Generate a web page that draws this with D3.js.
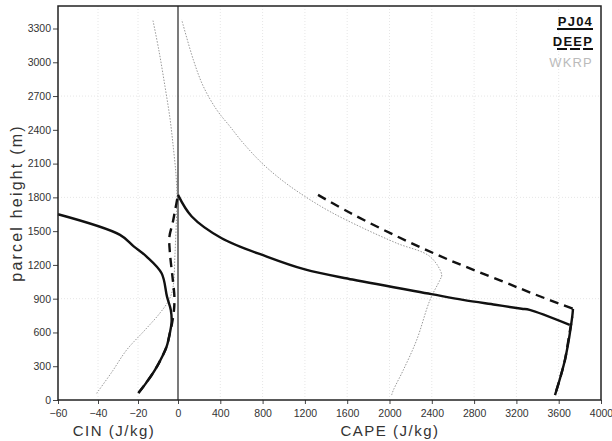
<!DOCTYPE html>
<html><head><meta charset="utf-8">
<script src="https://cdn.jsdelivr.net/npm/d3@7"></script>
<style>body{margin:0;background:#fff}svg{display:block}</style>
</head><body><svg id="c" width="612" height="441"></svg>
<script>
// x ticks (CIN left, CAPE right), y ticks
const xTicks = [-60,-40,-20,0,400,800,1200,1600,2000,2400,2800,3200,3600,4000];
const yTicks = [0,300,600,900,1200,1500,1800,2100,2400,2700,3000,3300];
const yGrid = [900,1800,2700];
const seriesNames = ["PJ04","DEEP","WKRP"];

// PJ04 (solid)
const pj04CinH   = [62,150,267,400,474,600,700,800,918,1126,1274,1363,1467,1650];
const pj04CinV   = [-19.8,-16,-11.5,-7.5,-5.7,-4,-3.2,-3.6,-5.5,-8.2,-15.7,-22,-29,-60];
const pj04CapeH  = [1822,1630,1437,1274,1160,1070,940,889,846,811,800,667];
const pj04CapeV  = [0,130,413,839,1200,1650,2396,2695,3000,3250,3325,3704];
const pj04TailH  = [740,560,356,200,44];
const pj04TailV  = [3728,3700,3659,3615,3565];

// DEEP (dashed)
const deepCinH   = [62,150,267,400,474,600,680,800,918,1100,1300,1450,1570,1700,1822];
const deepCinV   = [-19.8,-16,-11.5,-7.5,-5.7,-4,-3,-2,-1.8,-2.8,-4,-4.3,-2.7,-1.3,0];
const deepCapeH  = [1822,1663,1441,1241,1063,940,810];
const deepCapeV  = [1324,1626,2099,2572,3045,3370,3735];
const deepTailH  = [810,740,580,356,200,44];
const deepTailV  = [3735,3728,3700,3659,3615,3565];

// WKRP (gray dotted)
const wkrpCinH   = [59,250,444,622,773,889,1000,1300,1600,1800,2000,2237,2500,2785,3100,3370];
const wkrpCinV   = [-40.7,-33,-25.7,-16.5,-9,-4.5,-2.5,-1.5,-0.8,-0.5,-1,-2.3,-4,-6.5,-9.5,-12.5];
const wkrpCapeH  = [44,89,267,533,889,1067,1111,1274,1393,1526,1674,1808,1945,2104,2281,2429,2578,2785,3022,3378];
const wkrpCapeV  = [2020,2037,2131,2257,2383,2477,2494,2383,2068,1752,1437,1201,993,794,618,492,366,240,145,35];

const svg = d3.select("#c");
const L=58,R=601,T=6,B=400, X0=178;
const x = d3.scaleLinear().domain([-60,0,4000]).range([L,X0,R]);
const y = d3.scaleLinear().domain([0,3500]).range([B,T]);
const tf = "Liberation Sans, Arial, sans-serif";

// grid
const g = svg.append("g");
g.selectAll(".vg").data(xTicks.filter(d=>d!==-60&&d!==0&&d!==4000)).enter().append("line")
  .attr("x1",d=>x(d)).attr("x2",d=>x(d)).attr("y1",T).attr("y2",B)
  .attr("stroke","#e6e6e6").attr("stroke-width",1).attr("stroke-dasharray","1,2");
g.selectAll(".hg").data(yGrid).enter().append("line")
  .attr("x1",L).attr("x2",R).attr("y1",d=>y(d)).attr("y2",d=>y(d))
  .attr("stroke","#e6e6e6").attr("stroke-width",1).attr("stroke-dasharray","1,2");

// axes
const xa = svg.append("g").attr("transform",`translate(0,${B})`)
  .call(d3.axisBottom(x).tickValues(xTicks).tickSize(4).tickPadding(4).tickFormat(d3.format("d")));
const ya = svg.append("g").attr("transform",`translate(${L},0)`)
  .call(d3.axisLeft(y).tickValues(yTicks).tickSize(5).tickPadding(2).tickFormat(d3.format("d")));
[xa,ya].forEach(a=>{
  a.select(".domain").remove();
  a.selectAll("text").attr("font-family",tf).attr("font-size",10.5).attr("fill","#333");
  a.selectAll("line").attr("stroke","#444");
});
xa.selectAll("text").attr("dy","0.85em");

// zero line
svg.append("line").attr("x1",x(0)).attr("x2",x(0)).attr("y1",T).attr("y2",B).attr("stroke","#222").attr("stroke-width",1.2);

const line = d3.line().x(d=>x(d[0])).y(d=>y(d[1])).curve(d3.curveCatmullRom.alpha(0.5));
function draw(vs,hs,style){
  svg.append("path").datum(vs.map((v,i)=>[v,hs[i]])).attr("d",line)
    .attr("fill","none").attr("stroke",style.c).attr("stroke-width",style.w)
    .attr("stroke-dasharray",style.d||null).attr("stroke-linejoin","round");
}
const sW = {c:"#999",w:1,d:"1.5,1.5"};
const sP = {c:"#111",w:2.4};
const sD = {c:"#111",w:2.4,d:"9,6"};
draw(wkrpCinV,wkrpCinH,sW); draw(wkrpCapeV,wkrpCapeH,sW);
draw(deepCinV,deepCinH,sD); draw(deepCapeV,deepCapeH,sD); draw(deepTailV,deepTailH,sD);
draw(pj04CinV,pj04CinH,sP); draw(pj04CapeV,pj04CapeH,sP); draw(pj04TailV,pj04TailH,sP);

// frame
svg.append("rect").attr("x",L).attr("y",T).attr("width",R-L).attr("height",B-T)
  .attr("fill","none").attr("stroke","#222").attr("stroke-width",1.5);

// axis titles
function title(txt,xx,yy,rot,fs,ls){
  svg.append("text").attr("transform",`translate(${xx},${yy})`+(rot?" rotate(-90)":""))
    .attr("text-anchor","middle").attr("font-family",tf).attr("font-size",fs)
    .attr("letter-spacing",ls).attr("fill","#333").text(txt);
}
title("CIN (J/kg)",114,436,false,15,1.5);
title("CAPE (J/kg)",390,436,false,15,1.5);
title("parcel height (m)",22,203,true,16,2.2);

// legend
const legY=[26,46,67], legC=["#111","#111","#bbb"];
seriesNames.forEach((n,i)=>{
  svg.append("text").attr("x",593).attr("y",legY[i]).attr("text-anchor","end")
    .attr("font-family",tf).attr("font-size",13).attr("letter-spacing",1.2)
    .attr("font-weight",i<2?"bold":"normal").attr("fill",legC[i]).text(n);
  if(i<2){
    svg.append("line").attr("x1",557).attr("x2",593).attr("y1",legY[i]+3).attr("y2",legY[i]+3)
      .attr("stroke","#111").attr("stroke-width",2).attr("stroke-dasharray",i===1?"10,3":null);
  }
});
</script></body></html>
